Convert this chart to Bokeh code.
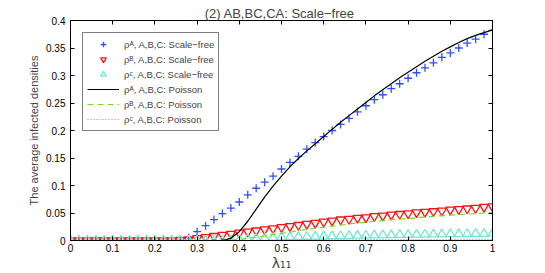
from bokeh.plotting import figure
from bokeh.models import LinearAxis, FixedTicker, Legend, LegendItem, Range1d
from bokeh.embed import file_html
from bokeh.resources import INLINE

# ---------------- data ----------------
lam = [0.00, 0.02, 0.04, 0.06, 0.08, 0.10, 0.12, 0.14, 0.16, 0.18,
       0.20, 0.22, 0.24, 0.26, 0.28, 0.30, 0.32, 0.34, 0.36, 0.38,
       0.40, 0.42, 0.44, 0.46, 0.48, 0.50, 0.52, 0.54, 0.56, 0.58,
       0.60, 0.62, 0.64, 0.66, 0.68, 0.70, 0.72, 0.74, 0.76, 0.78,
       0.80, 0.82, 0.84, 0.86, 0.88, 0.90, 0.92, 0.94, 0.96, 0.98, 1.00]

rhoA_sf = [0, 0, 0, 0, 0, 0, 0, 0, 0, 0,
           0, 0, 0, 0, 0.005, 0.016, 0.027, 0.038, 0.049, 0.059,
           0.070, 0.083, 0.095, 0.106, 0.117, 0.130, 0.142, 0.153, 0.166, 0.178,
           0.189, 0.200, 0.211, 0.222, 0.234, 0.245, 0.256, 0.265, 0.276, 0.285,
           0.295, 0.305, 0.314, 0.323, 0.333, 0.341, 0.350, 0.359, 0.366, 0.375, 0.382]

rhoB_sf = [0, 0, 0, 0, 0, 0, 0, 0, 0, 0,
           0, 0, 0, 0.001, 0.002, 0.004, 0.006, 0.008, 0.010, 0.012,
           0.014, 0.016, 0.018, 0.020, 0.022, 0.024, 0.026, 0.028, 0.030, 0.032,
           0.034, 0.036, 0.038, 0.039, 0.041, 0.042, 0.044, 0.045, 0.047, 0.048,
           0.049, 0.051, 0.052, 0.053, 0.054, 0.056, 0.057, 0.058, 0.059, 0.061, 0.062]

rhoC_sf = [0, 0, 0, 0, 0, 0, 0, 0, 0, 0,
           0, 0, 0, 0, 0, 0, 0, 0, 0, 0.0005,
           0.0015, 0.0025, 0.0035, 0.0045, 0.005, 0.006, 0.0063, 0.0066, 0.007, 0.0073,
           0.0076, 0.008, 0.0083, 0.0086, 0.009, 0.0092, 0.0095, 0.0098, 0.010, 0.0103,
           0.0105, 0.0107, 0.011, 0.0112, 0.0114, 0.0116, 0.0118, 0.012, 0.0122, 0.0124, 0.0126]

rhoA_po = [0, 0, 0, 0, 0, 0, 0, 0, 0, 0,
           0, 0, 0, 0, 0, 0, 0, 0, 0, 0.004,
           0.016, 0.035, 0.057, 0.079, 0.099, 0.117, 0.134, 0.149, 0.163, 0.176,
           0.189, 0.202, 0.215, 0.227, 0.239, 0.251, 0.263, 0.274, 0.285, 0.296,
           0.306, 0.316, 0.326, 0.335, 0.344, 0.352, 0.360, 0.367, 0.373, 0.378, 0.383]

rhoB_po = [0, 0, 0, 0, 0, 0, 0, 0, 0, 0,
           0, 0, 0, 0, 0, 0, 0, 0, 0, 0.0005,
           0.002, 0.004, 0.006, 0.008, 0.011, 0.013, 0.015, 0.018, 0.020, 0.022,
           0.024, 0.026, 0.028, 0.030, 0.032, 0.033, 0.035, 0.036, 0.038, 0.039,
           0.040, 0.041, 0.043, 0.044, 0.045, 0.046, 0.047, 0.048, 0.049, 0.050, 0.051]

rhoC_po = [0, 0, 0, 0, 0, 0, 0, 0, 0, 0,
           0, 0, 0, 0, 0, 0, 0, 0, 0, 0,
           0.0002, 0.0004, 0.0005, 0.0006, 0.0007, 0.0008, 0.0009, 0.0010, 0.0011, 0.0011,
           0.0012, 0.0012, 0.0013, 0.0013, 0.0014, 0.0014, 0.0015, 0.0015, 0.0016, 0.0016,
           0.0017, 0.0017, 0.0018, 0.0018, 0.0018, 0.0019, 0.0019, 0.0019, 0.0020, 0.0020, 0.0020]

x_ticks = [0, 0.1, 0.2, 0.3, 0.4, 0.5, 0.6, 0.7, 0.8, 0.9, 1.0]
x_tick_labels = ["0", "0.1", "0.2", "0.3", "0.4", "0.5", "0.6", "0.7", "0.8", "0.9", "1"]
y_ticks = [0, 0.05, 0.1, 0.15, 0.2, 0.25, 0.3, 0.35, 0.4]
y_tick_labels = ["0", "0.05", "0.1", "0.15", "0.2", "0.25", "0.3", "0.35", "0.4"]

labels = ["\u03c1\u1d2c, A,B,C: Scale\u2212free",
          "\u03c1\u1d2e, A,B,C: Scale\u2212free",
          "\u03c1\u1d9c, A,B,C: Scale\u2212free",
          "\u03c1\u1d2c, A,B,C: Poisson",
          "\u03c1\u1d2e, A,B,C: Poisson",
          "\u03c1\u1d9c, A,B,C: Poisson"]

FONT = "Liberation Sans"

p = figure(width=545, height=273, output_backend="svg", toolbar_location=None,
           x_range=Range1d(0, 1), y_range=Range1d(0, 0.4),
           title="(2)  AB,BC,CA: Scale\u2212free")
p.min_border_left = 70
p.min_border_right = 53
p.min_border_top = 20
p.min_border_bottom = 31
p.background_fill_color = "white"
p.border_fill_color = "white"
p.outline_line_color = "black"
p.outline_line_width = 1
p.grid.visible = False

p.title.align = "center"
p.title.text_font = FONT
p.title.text_font_size = "13px"
p.title.text_font_style = "normal"
p.title.standoff = 0
p.title.offset = 0

for ax in (p.xaxis[0], p.yaxis[0]):
    ax.major_tick_in = 4
    ax.major_tick_out = 0
    ax.minor_tick_in = 0
    ax.minor_tick_out = 0
    ax.axis_line_color = "black"
    ax.major_tick_line_color = "black"
    ax.major_label_text_font = FONT
    ax.major_label_text_font_size = "10px"
    ax.major_label_text_color = "black"

p.xaxis[0].ticker = FixedTicker(ticks=x_ticks)
p.xaxis[0].major_label_overrides = dict(zip(x_ticks, x_tick_labels))
p.xaxis[0].major_label_standoff = 3
p.xaxis[0].axis_label = "\u03bb\u2081\u2081"
p.xaxis[0].axis_label_text_font = "DejaVu Sans"
p.xaxis[0].axis_label_text_font_size = "14px"
p.xaxis[0].axis_label_text_font_style = "normal"
p.xaxis[0].axis_label_standoff = 0

p.yaxis[0].ticker = FixedTicker(ticks=y_ticks)
p.yaxis[0].major_label_overrides = dict(zip(y_ticks, y_tick_labels))
p.yaxis[0].major_label_standoff = 5
p.yaxis[0].axis_label = "The average infected densities"
p.yaxis[0].axis_label_text_font = FONT
p.yaxis[0].axis_label_text_font_size = "11px"
p.yaxis[0].axis_label_text_font_style = "normal"
p.yaxis[0].axis_label_standoff = 3

for loc, ticks in (("above", x_ticks), ("right", y_ticks)):
    ax = LinearAxis(ticker=FixedTicker(ticks=ticks))
    ax.major_tick_in = 4
    ax.major_tick_out = 0
    ax.minor_tick_in = 0
    ax.minor_tick_out = 0
    ax.major_label_text_color = None
    ax.major_label_text_font_size = "1px"
    ax.major_label_standoff = 0
    ax.axis_line_color = "black"
    p.add_layout(ax, loc)

r1 = p.scatter(lam, rhoA_sf, marker="cross", size=8, line_color="#3050ff", line_width=1.3)
r2 = p.scatter(lam, rhoB_sf, marker="inverted_triangle", size=9, line_color="#ff1010",
               fill_color=None, line_width=1.3)
r3 = p.scatter(lam, rhoC_sf, marker="triangle", size=9, line_color="#70e8d0",
               fill_color=None, line_width=1.3)
r4 = p.line(lam, rhoA_po, line_color="black", line_width=1.2)
r5 = p.line(lam, rhoB_po, line_color="#70e020", line_width=1.2, line_dash="6 4")
r6 = p.line(lam, rhoC_po, line_color="#8080ff", line_width=1.2, line_dash="1 2")

legend = Legend(items=[LegendItem(label=l, renderers=[r]) for l, r in
                       zip(labels, [r1, r2, r3, r4, r5, r6])],
                location="top_left")
legend.margin = 12
legend.padding = 4
legend.spacing = 1
legend.glyph_height = 14
legend.label_height = 14
legend.glyph_width = 32
legend.label_standoff = 5
legend.label_text_font = FONT
legend.label_text_font_size = "9.5px"
legend.border_line_color = "black"
legend.border_line_width = 1
legend.background_fill_alpha = 1
p.add_layout(legend, "center")

open("out.html", "w").write(file_html(p, INLINE))
